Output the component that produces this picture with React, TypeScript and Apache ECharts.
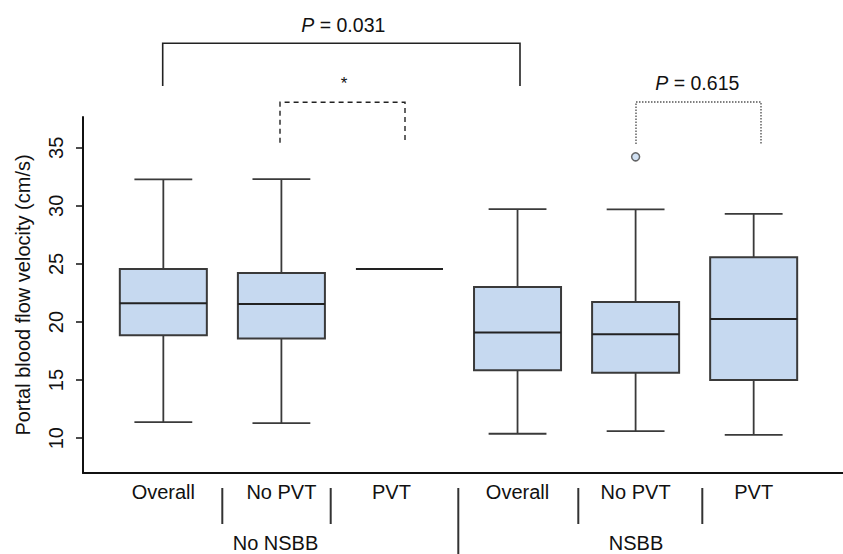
import React, { useEffect, useRef } from "react";
import * as echarts from "echarts";

const categories = ["Overall", "No PVT", "PVT", "Overall", "No PVT", "PVT"];
const mins = [11.38, 11.29, 24.57, 10.38, 10.6, 10.29];
const q1s = [18.85, 18.59, 24.57, 15.84, 15.64, 15.0];
const medians = [21.61, 21.55, 24.57, 19.09, 18.94, 20.26];
const q3s = [24.57, 24.22, 24.57, 23.02, 21.72, 25.58];
const maxs = [32.28, 32.3, 24.57, 29.72, 29.69, 29.31];
const outliers: [number, number][] = [[4, 34.22]];
const yTicks = [10, 15, 20, 25, 30, 35];
const groups = ["No NSBB", "NSBB"];
const pLabels = ["0.031", "0.615"];

const FONT = '"Liberation Sans", Arial, Helvetica, sans-serif';
const FS = 20;
const FILL = "#c6d9f0";
const STROKE = "#3a3a3a";
const Y_MIN = 7;
const Y_MAX = 37.65;

export default function App() {
  const ref = useRef<HTMLDivElement>(null);
  useEffect(() => {
    if (!ref.current) return;
    const chart = echarts.init(ref.current, undefined, { renderer: "svg" });
    const boxData = categories.map((_, i) => [i, mins[i], q1s[i], medians[i], q3s[i], maxs[i]]);
    const pText = (x: number, y: number, val: string) => ({
      type: "text",
      x,
      y,
      style: {
        text: "{i|P} = " + val,
        fontSize: 19.5,
        fill: "#111",
        fontFamily: FONT,
        textAlign: "center",
        textVerticalAlign: "middle",
        rich: { i: { fontStyle: "italic", fontSize: 19.5, fill: "#111", fontFamily: FONT } },
      },
    });
    const sep = (x: number, y2: number) => ({
      type: "line",
      shape: { x1: x, y1: 488, x2: x, y2 },
      style: { stroke: "#333", lineWidth: 2 },
    });
    const option: any = {
      animation: false,
      backgroundColor: "#ffffff",
      textStyle: { fontFamily: FONT },
      grid: [
        { left: 83, right: 0, top: 117, bottom: 81 },
        { left: 104.3, right: 30.3, top: 117, bottom: 81 },
      ],
      xAxis: [
        {
          type: "value",
          gridIndex: 0,
          min: 0,
          max: 1,
          axisLine: { show: true, lineStyle: { color: "#111", width: 2 } },
          axisTick: { show: false },
          axisLabel: { show: false },
          splitLine: { show: false },
        },
        {
          type: "category",
          gridIndex: 1,
          data: categories,
          boundaryGap: true,
          axisLine: { show: false },
          axisTick: { show: false },
          splitLine: { show: false },
          axisLabel: {
            show: true,
            interval: 0,
            margin: 9,
            fontSize: FS,
            color: "#111",
            fontFamily: FONT,
            formatter: (v: string, i: number) => (i === 2 ? "{s|" + v + "}" : v),
            rich: { s: { fontSize: FS, color: "#111", fontFamily: FONT, padding: [0, 16, 0, 0] } },
          },
        },
      ],
      yAxis: [
        {
          type: "value",
          gridIndex: 0,
          min: Y_MIN,
          max: Y_MAX,
          name: "Portal blood flow velocity (cm/s)",
          nameLocation: "middle",
          nameGap: 50,
          nameTextStyle: { fontSize: FS, color: "#111", fontFamily: FONT },
          axisLine: { show: true, lineStyle: { color: "#111", width: 2 } },
          axisTick: { show: true, length: 7, customValues: yTicks, lineStyle: { color: "#111", width: 1.5 } },
          axisLabel: {
            show: true,
            customValues: yTicks,
            rotate: 90,
            margin: 17,
            fontSize: FS,
            color: "#111",
            fontFamily: FONT,
          },
          splitLine: { show: false },
        },
        {
          type: "value",
          gridIndex: 1,
          min: Y_MIN,
          max: Y_MAX,
          show: false,
          splitLine: { show: false },
        },
      ],
      series: [
        {
          type: "custom",
          xAxisIndex: 1,
          yAxisIndex: 1,
          data: boxData,
          encode: { x: 0, y: [1, 2, 3, 4, 5] },
          renderItem: (params: any, api: any) => {
            const x = api.value(0);
            const lo = api.coord([x, api.value(1)]);
            const q1 = api.coord([x, api.value(2)]);
            const md = api.coord([x, api.value(3)]);
            const q3 = api.coord([x, api.value(4)]);
            const hi = api.coord([x, api.value(5)]);
            const band = api.size([1, 0])[0];
            const bw = band * 0.737;
            const cw = band * 0.49;
            const cx = lo[0];
            const ls = { stroke: STROKE, lineWidth: 1.8 };
            return {
              type: "group",
              children: [
                { type: "line", shape: { x1: cx, y1: hi[1], x2: cx, y2: q3[1] }, style: ls },
                { type: "line", shape: { x1: cx, y1: q1[1], x2: cx, y2: lo[1] }, style: ls },
                { type: "line", shape: { x1: cx - cw / 2, y1: hi[1], x2: cx + cw / 2, y2: hi[1] }, style: ls },
                { type: "line", shape: { x1: cx - cw / 2, y1: lo[1], x2: cx + cw / 2, y2: lo[1] }, style: ls },
                {
                  type: "rect",
                  shape: { x: cx - bw / 2, y: q3[1], width: bw, height: q1[1] - q3[1] },
                  style: { fill: FILL, stroke: STROKE, lineWidth: 2 },
                },
                { type: "line", shape: { x1: cx - bw / 2, y1: md[1], x2: cx + bw / 2, y2: md[1] }, style: { stroke: "#222", lineWidth: 2 } },
              ],
            };
          },
        },
        {
          type: "scatter",
          xAxisIndex: 1,
          yAxisIndex: 1,
          data: outliers,
          symbol: "circle",
          symbolSize: 8,
          itemStyle: { color: FILL, borderColor: "#444", borderWidth: 1.5 },
        },
      ],
      graphic: [
        sep(222.3, 524),
        sep(330.7, 524),
        sep(458.3, 560),
        sep(578.3, 524),
        sep(702.3, 524),
        {
          type: "text",
          x: 275.5,
          y: 542.5,
          style: { text: groups[0], fontSize: FS, fill: "#111", fontFamily: FONT, textAlign: "center", textVerticalAlign: "middle" },
        },
        {
          type: "text",
          x: 636,
          y: 542.5,
          style: { text: groups[1], fontSize: FS, fill: "#111", fontFamily: FONT, textAlign: "center", textVerticalAlign: "middle" },
        },
        {
          type: "polyline",
          shape: { points: [[162.7, 86], [162.7, 43.3], [520, 43.3], [520, 86]] },
          style: { stroke: "#222", lineWidth: 1.6, fill: "none" },
        },
        {
          type: "polyline",
          shape: { points: [[280, 142.7], [280, 102.3], [405, 102.3], [405, 142.7]] },
          style: { stroke: "#222", lineWidth: 1.4, fill: "none", lineDash: [5, 4] },
        },
        {
          type: "polyline",
          shape: { points: [[636, 144], [636, 102], [761, 102], [761, 144]] },
          style: { stroke: "#555", lineWidth: 1.4, fill: "none", lineDash: [1.5, 1.5] },
        },
        pText(343.3, 25, pLabels[0]),
        pText(697.3, 82.7, pLabels[1]),
        {
          type: "text",
          x: 344,
          y: 83,
          style: { text: "*", fontSize: 17, fill: "#111", fontFamily: FONT, textAlign: "center", textVerticalAlign: "middle" },
        },
      ],
    };
    chart.setOption(option);
    return () => chart.dispose();
  }, []);
  return (
    <div
      ref={ref}
      style={{ position: "fixed", left: 0, top: 0, width: 843, height: 554, background: "#fff" }}
    />
  );
}
